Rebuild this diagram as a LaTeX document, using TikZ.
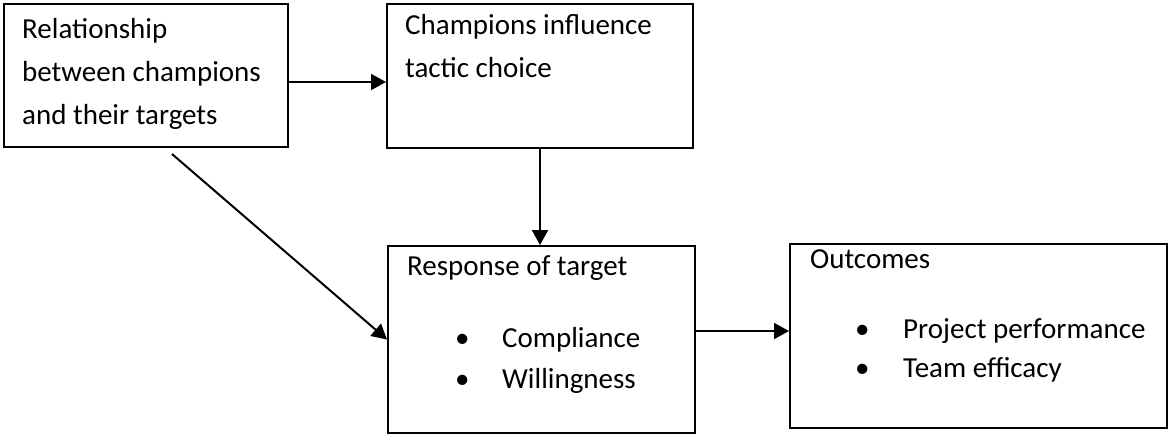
\documentclass[tikz,border=0pt]{standalone}
\usepackage{fontspec}
\setmainfont{Carlito}
\usetikzlibrary{arrows.meta}
\tikzstyle{box} = [draw=black, line width=2pt, rectangle, inner sep=0pt]
\tikzstyle{txt} = [align=left, inner sep=0pt, anchor=base west, font={\fontsize{29}{43}\selectfont}]
\tikzstyle{conn} = [line width=2pt, -{Triangle[length=15pt,width=16pt]}]
\newcommand{\bul}[1]{\makebox[#1][l]{\textbullet}}

\begin{document}
\begin{tikzpicture}[x=1pt,y=-1pt]
    \useasboundingbox (0,0) rectangle (1170,437);
    \node[box,minimum width=284pt,minimum height=143pt](rel) at (146,75.5){};
    \node[box,minimum width=306pt,minimum height=144pt](champ) at (540,76){};
    \node[box,minimum width=307pt,minimum height=187pt](resp) at (541.5,339.5){};
    \node[box,minimum width=377pt,minimum height=184pt](outc) at (978.5,336){};
    % text nodes sit on the baseline of their last line
    \node[txt](relt) at (22,124){Relationship\\between champions\\and their targets};
    \node[txt](champt) at (405,77){Champions influence\\tactic choice};
    \node[txt](respt) at (407,388){Response of target\\[29pt]
      \hspace*{48pt}\bul{47pt}Compliance\\[-2pt]
      \hspace*{48pt}\bul{47pt}Willingness};
    \node[txt](outct) at (810,377){Outcomes\\[27pt]
      \hspace*{45pt}\bul{48pt}Project performance\\[-4pt]
      \hspace*{45pt}\bul{48pt}Team efficacy};
    \coordinate (diag) at (172,154);
    \draw[conn]([yshift=-6.5pt]rel.east)--([yshift=-6.5pt]rel.east -| champ.west);
    \draw[conn](champ.south)--(champ.south |- resp.north);
    \draw[conn](diag)--(resp.west);
    \draw[conn]([yshift=8.5pt]resp.east)--([yshift=8.5pt]resp.east -| outc.west);
  \end{tikzpicture}
\end{document}
